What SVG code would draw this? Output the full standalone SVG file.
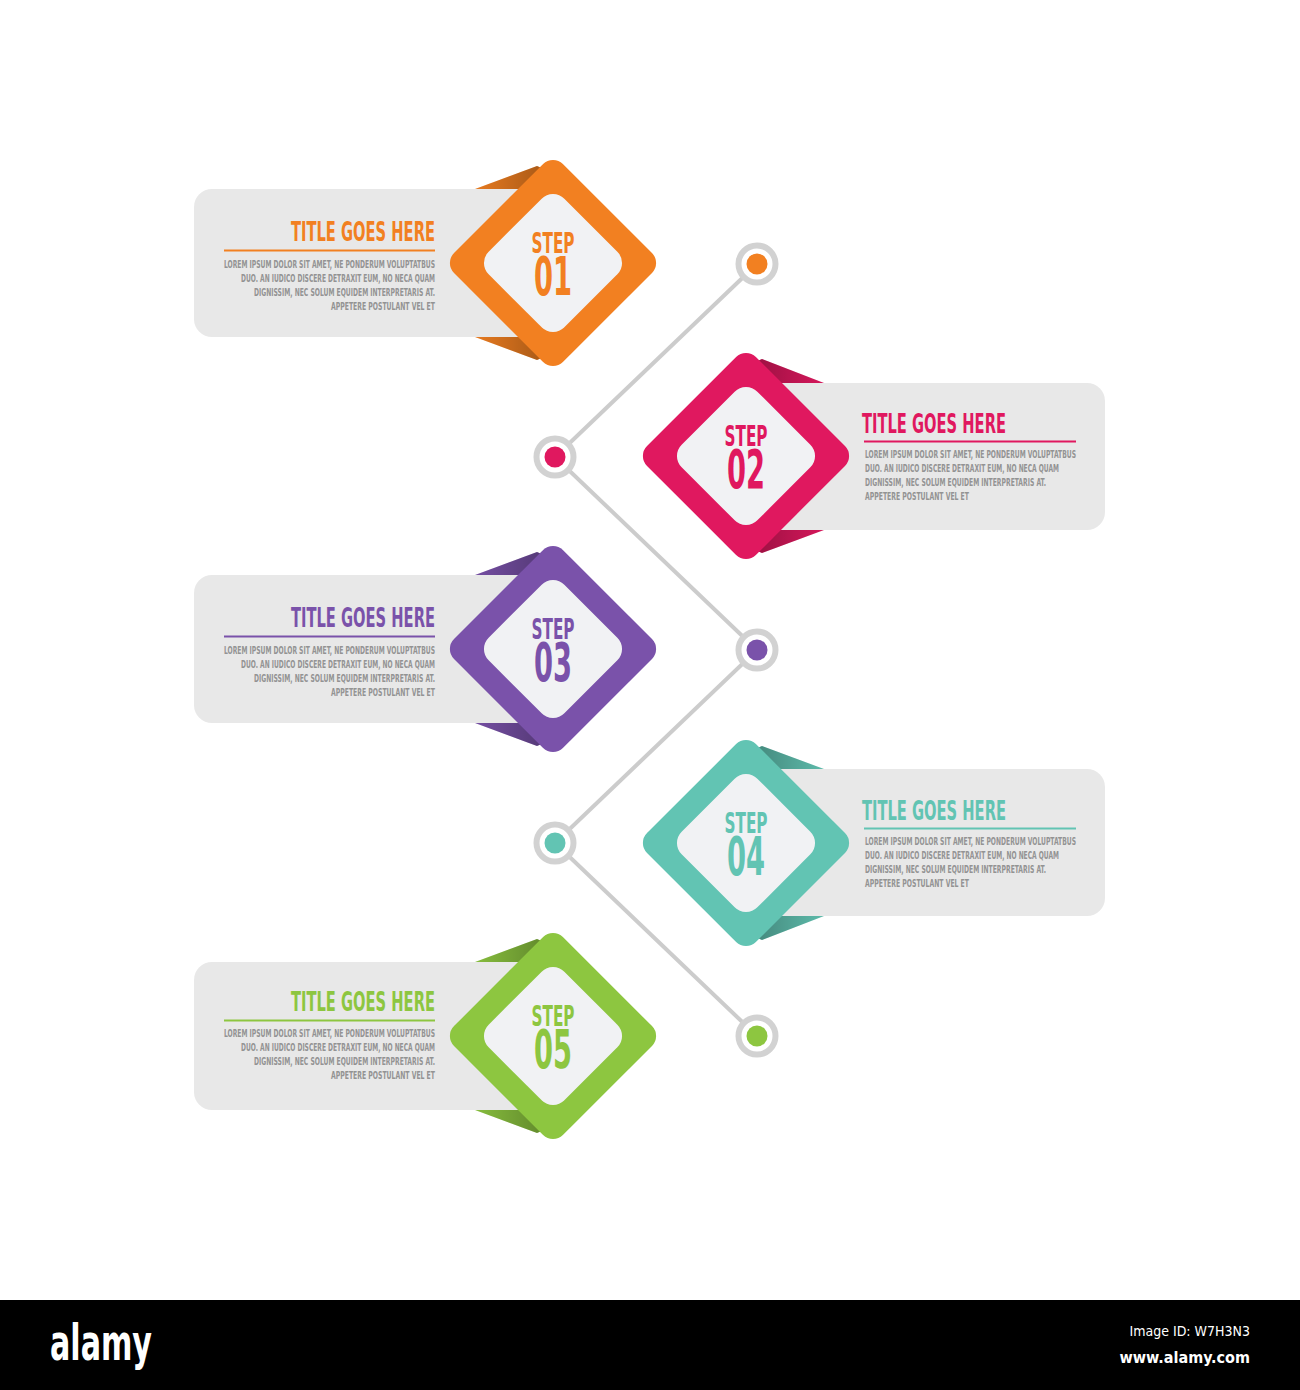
<svg xmlns="http://www.w3.org/2000/svg" width="1300" height="1390" viewBox="0 0 1300 1390">
<style>
.card{fill:#e8e8e8}
.ring{fill:#ffffff;stroke:#d2d2d2;stroke-width:6}
.inner{fill:#f1f2f4}
.f{font-family:"Liberation Sans Narrow","DejaVu Sans Condensed","Liberation Sans",sans-serif;font-weight:bold}
.title{font-size:27px}
.body{font-size:10.5px;fill:#939393}
.step{font-size:29px}
.num{font-size:54px}
.o{fill:#f28021}.p{fill:#e0185f}.v{fill:#7a52aa}.g{fill:#62c4b3}.l{fill:#8dc640}
</style>
<defs>
<linearGradient id="shL" x1="0" y1="0" x2="1" y2="0"><stop offset="0" stop-color="#000" stop-opacity="0.05"/><stop offset="1" stop-color="#000" stop-opacity="0.38"/></linearGradient>
<linearGradient id="shR" x1="1" y1="0" x2="0" y2="0"><stop offset="0" stop-color="#000" stop-opacity="0.05"/><stop offset="1" stop-color="#000" stop-opacity="0.38"/></linearGradient>
</defs>
<rect width="1300" height="1390" fill="#ffffff"/>

<g id="connectors">
<polyline points="757,264 555,457 757,650 555,843 757,1036" fill="none" stroke="#cccccc" stroke-width="4"/>
<circle class="ring" cx="757" cy="264" r="18.5"/><circle class="o" cx="757" cy="264" r="10.5"/>
<circle class="ring" cx="555" cy="457" r="18.5"/><circle class="p" cx="555" cy="457" r="10.5"/>
<circle class="ring" cx="757" cy="650" r="18.5"/><circle class="v" cx="757" cy="650" r="10.5"/>
<circle class="ring" cx="555" cy="843" r="18.5"/><circle class="g" cx="555" cy="843" r="10.5"/>
<circle class="ring" cx="757" cy="1036" r="18.5"/><circle class="l" cx="757" cy="1036" r="10.5"/>
</g>

<g id="step1">
<rect class="card" x="194" y="189" width="360" height="148" rx="18"/>
<polygon class="o" points="475,189 537,166 565,178 530,189"/>
<polygon fill="url(#shL)" points="475,189 537,166 565,178 530,189"/>
<polygon class="o" points="475,337 537,360 565,348 530,337"/>
<polygon fill="url(#shL)" points="475,337 537,360 565,348 530,337"/>
<rect class="o" x="-77" y="-77" width="154" height="154" rx="14" transform="translate(553,263) rotate(45)"/>
<rect class="inner" x="-53.5" y="-53.5" width="107" height="107" rx="16" transform="translate(553,263) rotate(45)"/>
<text class="f o" text-anchor="middle"><tspan class="step" x="553" y="253" textLength="43" lengthAdjust="spacingAndGlyphs">STEP</tspan><tspan class="num" x="553" y="295" textLength="38" lengthAdjust="spacingAndGlyphs">01</tspan></text>
<text class="f title o" x="291" y="241" textLength="144" lengthAdjust="spacingAndGlyphs">TITLE GOES HERE</text>
<rect class="o" x="224" y="249.5" width="211" height="2"/>
<text class="f body" x="224" y="268" textLength="211" lengthAdjust="spacingAndGlyphs">LOREM IPSUM DOLOR SIT AMET, NE PONDERUM VOLUPTATBUS</text>
<text class="f body" x="241" y="282" textLength="194" lengthAdjust="spacingAndGlyphs">DUO. AN IUDICO DISCERE DETRAXIT EUM, NO NECA QUAM</text>
<text class="f body" x="254" y="296" textLength="181" lengthAdjust="spacingAndGlyphs">DIGNISSIM, NEC SOLUM EQUIDEM INTERPRETARIS AT.</text>
<text class="f body" x="331" y="310" textLength="104" lengthAdjust="spacingAndGlyphs">APPETERE POSTULANT VEL ET</text>
</g>

<g id="step2">
<rect class="card" x="745" y="383" width="360" height="147" rx="18"/>
<polygon class="p" points="824,383 762,359 734,371 769,383"/>
<polygon fill="url(#shR)" points="824,383 762,359 734,371 769,383"/>
<polygon class="p" points="824,530 762,553 734,541 769,530"/>
<polygon fill="url(#shR)" points="824,530 762,553 734,541 769,530"/>
<rect class="p" x="-77" y="-77" width="154" height="154" rx="14" transform="translate(746,456) rotate(45)"/>
<rect class="inner" x="-53.5" y="-53.5" width="107" height="107" rx="16" transform="translate(746,456) rotate(45)"/>
<text class="f p" text-anchor="middle"><tspan class="step" x="746" y="446" textLength="43" lengthAdjust="spacingAndGlyphs">STEP</tspan><tspan class="num" x="746" y="488" textLength="38" lengthAdjust="spacingAndGlyphs">02</tspan></text>
<text class="f title p" x="862" y="433" textLength="144" lengthAdjust="spacingAndGlyphs">TITLE GOES HERE</text>
<rect class="p" x="864" y="440.5" width="212" height="2"/>
<text class="f body" x="865" y="458" textLength="211" lengthAdjust="spacingAndGlyphs">LOREM IPSUM DOLOR SIT AMET, NE PONDERUM VOLUPTATBUS</text>
<text class="f body" x="865" y="472" textLength="194" lengthAdjust="spacingAndGlyphs">DUO. AN IUDICO DISCERE DETRAXIT EUM, NO NECA QUAM</text>
<text class="f body" x="865" y="486" textLength="181" lengthAdjust="spacingAndGlyphs">DIGNISSIM, NEC SOLUM EQUIDEM INTERPRETARIS AT.</text>
<text class="f body" x="865" y="500" textLength="104" lengthAdjust="spacingAndGlyphs">APPETERE POSTULANT VEL ET</text>
</g>

<g id="step3">
<rect class="card" x="194" y="575" width="360" height="148" rx="18"/>
<polygon class="v" points="475,575 537,552 565,564 530,575"/>
<polygon fill="url(#shL)" points="475,575 537,552 565,564 530,575"/>
<polygon class="v" points="475,723 537,746 565,734 530,723"/>
<polygon fill="url(#shL)" points="475,723 537,746 565,734 530,723"/>
<rect class="v" x="-77" y="-77" width="154" height="154" rx="14" transform="translate(553,649) rotate(45)"/>
<rect class="inner" x="-53.5" y="-53.5" width="107" height="107" rx="16" transform="translate(553,649) rotate(45)"/>
<text class="f v" text-anchor="middle"><tspan class="step" x="553" y="639" textLength="43" lengthAdjust="spacingAndGlyphs">STEP</tspan><tspan class="num" x="553" y="681" textLength="38" lengthAdjust="spacingAndGlyphs">03</tspan></text>
<text class="f title v" x="291" y="627" textLength="144" lengthAdjust="spacingAndGlyphs">TITLE GOES HERE</text>
<rect class="v" x="224" y="635.5" width="211" height="2"/>
<text class="f body" x="224" y="654" textLength="211" lengthAdjust="spacingAndGlyphs">LOREM IPSUM DOLOR SIT AMET, NE PONDERUM VOLUPTATBUS</text>
<text class="f body" x="241" y="668" textLength="194" lengthAdjust="spacingAndGlyphs">DUO. AN IUDICO DISCERE DETRAXIT EUM, NO NECA QUAM</text>
<text class="f body" x="254" y="682" textLength="181" lengthAdjust="spacingAndGlyphs">DIGNISSIM, NEC SOLUM EQUIDEM INTERPRETARIS AT.</text>
<text class="f body" x="331" y="696" textLength="104" lengthAdjust="spacingAndGlyphs">APPETERE POSTULANT VEL ET</text>
</g>

<g id="step4">
<rect class="card" x="745" y="769" width="360" height="147" rx="18"/>
<polygon class="g" points="824,769 762,746 734,758 769,769"/>
<polygon fill="url(#shR)" points="824,769 762,746 734,758 769,769"/>
<polygon class="g" points="824,916 762,940 734,928 769,916"/>
<polygon fill="url(#shR)" points="824,916 762,940 734,928 769,916"/>
<rect class="g" x="-77" y="-77" width="154" height="154" rx="14" transform="translate(746,843) rotate(45)"/>
<rect class="inner" x="-53.5" y="-53.5" width="107" height="107" rx="16" transform="translate(746,843) rotate(45)"/>
<text class="f g" text-anchor="middle"><tspan class="step" x="746" y="833" textLength="43" lengthAdjust="spacingAndGlyphs">STEP</tspan><tspan class="num" x="746" y="875" textLength="38" lengthAdjust="spacingAndGlyphs">04</tspan></text>
<text class="f title g" x="862" y="820" textLength="144" lengthAdjust="spacingAndGlyphs">TITLE GOES HERE</text>
<rect class="g" x="864" y="827.5" width="212" height="2"/>
<text class="f body" x="865" y="845" textLength="211" lengthAdjust="spacingAndGlyphs">LOREM IPSUM DOLOR SIT AMET, NE PONDERUM VOLUPTATBUS</text>
<text class="f body" x="865" y="859" textLength="194" lengthAdjust="spacingAndGlyphs">DUO. AN IUDICO DISCERE DETRAXIT EUM, NO NECA QUAM</text>
<text class="f body" x="865" y="873" textLength="181" lengthAdjust="spacingAndGlyphs">DIGNISSIM, NEC SOLUM EQUIDEM INTERPRETARIS AT.</text>
<text class="f body" x="865" y="887" textLength="104" lengthAdjust="spacingAndGlyphs">APPETERE POSTULANT VEL ET</text>
</g>

<g id="step5">
<rect class="card" x="194" y="962" width="360" height="148" rx="18"/>
<polygon class="l" points="475,962 537,939 565,951 530,962"/>
<polygon fill="url(#shL)" points="475,962 537,939 565,951 530,962"/>
<polygon class="l" points="475,1110 537,1133 565,1121 530,1110"/>
<polygon fill="url(#shL)" points="475,1110 537,1133 565,1121 530,1110"/>
<rect class="l" x="-77" y="-77" width="154" height="154" rx="14" transform="translate(553,1036) rotate(45)"/>
<rect class="inner" x="-53.5" y="-53.5" width="107" height="107" rx="16" transform="translate(553,1036) rotate(45)"/>
<text class="f l" text-anchor="middle"><tspan class="step" x="553" y="1026" textLength="43" lengthAdjust="spacingAndGlyphs">STEP</tspan><tspan class="num" x="553" y="1068" textLength="38" lengthAdjust="spacingAndGlyphs">05</tspan></text>
<text class="f title l" x="291" y="1011" textLength="144" lengthAdjust="spacingAndGlyphs">TITLE GOES HERE</text>
<rect class="l" x="224" y="1019.5" width="211" height="2"/>
<text class="f body" x="224" y="1037" textLength="211" lengthAdjust="spacingAndGlyphs">LOREM IPSUM DOLOR SIT AMET, NE PONDERUM VOLUPTATBUS</text>
<text class="f body" x="241" y="1051" textLength="194" lengthAdjust="spacingAndGlyphs">DUO. AN IUDICO DISCERE DETRAXIT EUM, NO NECA QUAM</text>
<text class="f body" x="254" y="1065" textLength="181" lengthAdjust="spacingAndGlyphs">DIGNISSIM, NEC SOLUM EQUIDEM INTERPRETARIS AT.</text>
<text class="f body" x="331" y="1079" textLength="104" lengthAdjust="spacingAndGlyphs">APPETERE POSTULANT VEL ET</text>
</g>

<g id="footer">
<rect x="0" y="1300" width="1300" height="90" fill="#000000"/>
<text class="f" x="50" y="1360" font-size="50" fill="#ffffff" textLength="102" lengthAdjust="spacingAndGlyphs">alamy</text>
<text x="1250" y="1336" font-family="Liberation Sans Narrow,DejaVu Sans Condensed,Liberation Sans,sans-serif" font-size="14" fill="#ffffff" text-anchor="end">Image ID: W7H3N3</text>
<text class="f" x="1250" y="1363" font-size="16" fill="#ffffff" text-anchor="end">www.alamy.com</text>
</g>
</svg>
